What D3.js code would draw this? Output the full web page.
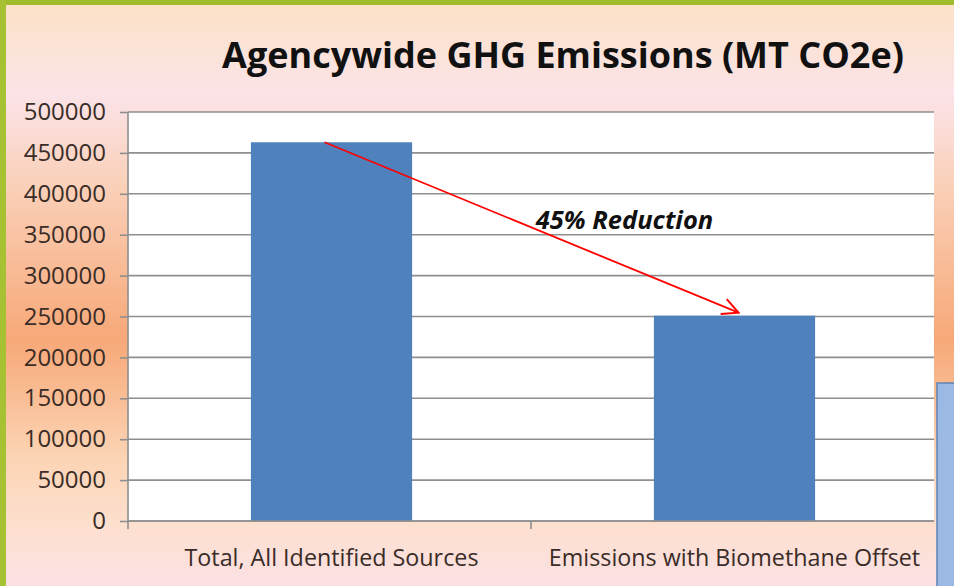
<!DOCTYPE html>
<html>
<head>
<meta charset="utf-8">
<script src="https://cdn.jsdelivr.net/npm/d3@7"></script>
<style>
  body { margin: 0; padding: 0; overflow: hidden; }
  svg { display: block; }
</style>
</head>
<body>
<svg id="chart"></svg>
<script>
const categories = ["Total, All Identified Sources", "Emissions with Biomethane Offset"];
const emissions = [463000, 251000];
const yTicks = [0, 50000, 100000, 150000, 200000, 250000, 300000, 350000, 400000, 450000, 500000];
const chartTitle = "Agencywide GHG Emissions (MT CO2e)";
const annotation = "45% Reduction";

const width = 954, height = 586;
const margin = {top: 112, right: 17, bottom: 65, left: 128};

const svg = d3.select("#chart")
  .attr("width", width)
  .attr("height", height);

// background gradient (slide look)
const defs = svg.append("defs");
const grad = defs.append("linearGradient")
  .attr("id", "bg")
  .attr("x1", 0).attr("y1", 0).attr("x2", 0).attr("y2", 1);
[[0, "#fce2c6"], [0.16, "#fbe3e8"], [0.32, "#fad0b8"], [0.58, "#f7a878"], [0.78, "#fcd4b4"], [0.9, "#fde0d0"], [1, "#fbe0e4"]]
  .forEach(([o, c]) => grad.append("stop").attr("offset", o).attr("stop-color", c));

svg.append("rect")
  .attr("width", width).attr("height", height)
  .attr("fill", "url(#bg)");

// green frame
svg.append("rect").attr("x", 0).attr("y", 0).attr("width", width).attr("height", 5).attr("fill", "#9fbb2e");
svg.append("rect").attr("x", 0).attr("y", 0).attr("width", 6).attr("height", height).attr("fill", "#a6c232");

const innerW = width - margin.left - margin.right - 3;
const innerH = height - margin.top - margin.bottom;

const x = d3.scaleBand()
  .domain(categories)
  .range([0, innerW])
  .paddingInner(0.6)
  .paddingOuter(0.3);

const y = d3.scaleLinear()
  .domain([0, 500000])
  .range([innerH, 0]);

const g = svg.append("g")
  .attr("transform", `translate(${margin.left},${margin.top})`);

// plot area
g.append("rect")
  .attr("width", innerW)
  .attr("height", innerH)
  .attr("fill", "#ffffff");

// gridlines
g.append("g")
  .selectAll("line")
  .data(yTicks)
  .join("line")
  .attr("x1", 0)
  .attr("x2", innerW)
  .attr("y1", d => y(d))
  .attr("y2", d => y(d))
  .attr("stroke", "#8f8f8f")
  .attr("stroke-width", 1.6);

// y axis
const yAxis = g.append("g")
  .call(d3.axisLeft(y).tickValues(yTicks).tickSize(8).tickPadding(14).tickFormat(d3.format("d")));
yAxis.select(".domain").attr("stroke", "#8f8f8f").attr("stroke-width", 1.6)
  .attr("d", `M0,0V${innerH + 8}`);
yAxis.selectAll(".tick line").attr("stroke", "#8f8f8f").attr("stroke-width", 1.6);
yAxis.selectAll("text")
  .attr("font-family", "'Open Sans', sans-serif")
  .attr("font-size", 24)
  .attr("fill", "#3a2c27");

// bars
g.selectAll(".bar")
  .data(emissions)
  .join("rect")
  .attr("class", "bar")
  .attr("x", (d, i) => x(categories[i]) + 2)
  .attr("y", d => y(d))
  .attr("width", x.bandwidth())
  .attr("height", d => innerH - y(d))
  .attr("fill", "#4f81bd");

// x axis
const xAxisG = g.append("g")
  .attr("transform", `translate(0,${innerH})`);
xAxisG.append("line")
  .attr("x1", 0).attr("x2", innerW)
  .attr("stroke", "#8f8f8f").attr("stroke-width", 1.6);
const midX = (x(categories[0]) + x.bandwidth() + x(categories[1])) / 2;
xAxisG.append("line")
  .attr("x1", midX).attr("x2", midX)
  .attr("y1", 0).attr("y2", 8)
  .attr("stroke", "#8f8f8f").attr("stroke-width", 1.6);
xAxisG.selectAll(".cat")
  .data(categories)
  .join("text")
  .attr("class", "cat")
  .attr("x", d => x(d) + x.bandwidth() / 2 + 2)
  .attr("y", 45)
  .attr("text-anchor", "middle")
  .attr("font-family", "'Open Sans', sans-serif")
  .attr("font-size", 23.3)
  .attr("fill", "#3a2c27")
  .text(d => d);

// title
svg.append("text")
  .attr("x", 563)
  .attr("y", 68)
  .attr("text-anchor", "middle")
  .attr("font-family", "'Open Sans', sans-serif")
  .attr("font-weight", "bold")
  .attr("font-size", 36)
  .attr("fill", "#111")
  .text(chartTitle);

// reduction arrow
defs.append("marker")
  .attr("id", "arrow")
  .attr("viewBox", "0 0 20 20")
  .attr("refX", 18).attr("refY", 10)
  .attr("markerWidth", 20).attr("markerHeight", 20)
  .attr("markerUnits", "userSpaceOnUse")
  .attr("orient", "auto")
  .append("path")
  .attr("d", "M2,2L18,10L2,18")
  .attr("fill", "none")
  .attr("stroke", "#ff0000")
  .attr("stroke-width", 2);

const x0 = x(categories[0]) + x.bandwidth() / 2 - 5;
const x1 = x(categories[1]) + x.bandwidth() / 2 + 6;
g.append("line")
  .attr("x1", x0).attr("y1", y(emissions[0]))
  .attr("x2", x1).attr("y2", y(emissions[1]) - 3)
  .attr("stroke", "#ff0000")
  .attr("stroke-width", 1.8)
  .attr("marker-end", "url(#arrow)");

g.append("text")
  .attr("x", (x0 + x1) / 2 + 93)
  .attr("y", y(emissions[0]) + 87)
  .attr("text-anchor", "middle")
  .attr("font-family", "'Open Sans', sans-serif")
  .attr("font-weight", "bold")
  .attr("font-style", "italic")
  .attr("font-size", 25.5)
  .attr("fill", "#111")
  .text(annotation);

// clipped neighbouring slide object at right edge
svg.append("rect")
  .attr("x", 937).attr("y", 383)
  .attr("width", 20).attr("height", 210)
  .attr("fill", "#9bb9e2")
  .attr("stroke", "#5f82b8")
  .attr("stroke-width", 1.5);
</script>
</body>
</html>
